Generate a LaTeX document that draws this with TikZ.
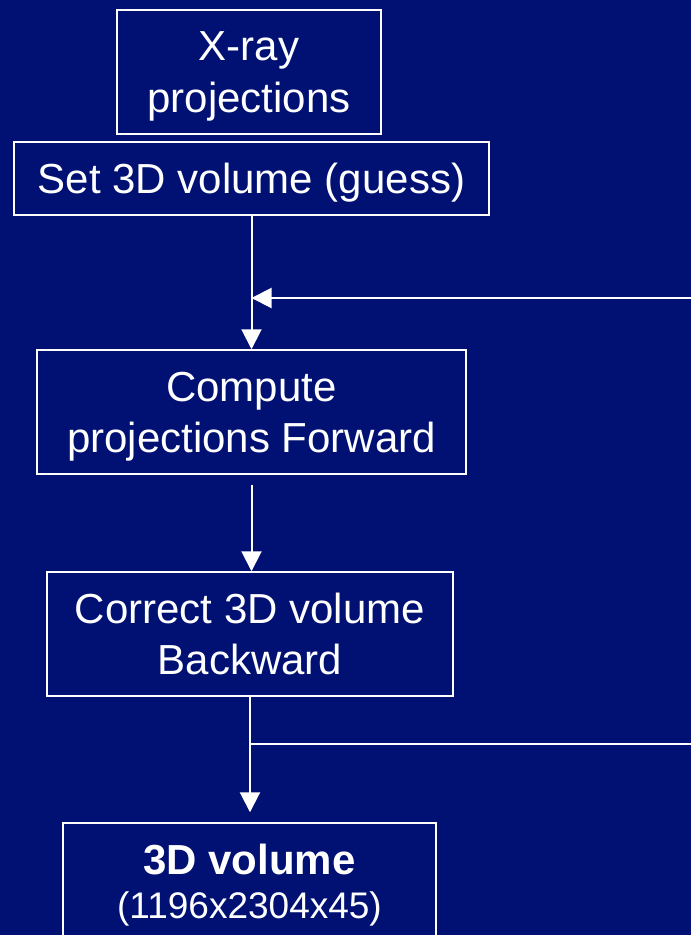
\documentclass[tikz,border=0pt]{standalone}
\usepackage{fontspec}
\setmainfont{Liberation Sans}
\usetikzlibrary{arrows.meta}
\definecolor{slidebg}{RGB}{0,17,115}

\begin{document}
\begin{tikzpicture}[x=0.75pt,y=0.75pt,yscale=-1,
  stage/.style={draw=white, line width=1.1pt, text=white, align=center, inner sep=0pt,
    text depth=0pt, font=\fontsize{31.5}{38.5}\selectfont},
  flow/.style={draw=white, line width=1.5pt, -{Triangle[length=15pt,width=15pt]}},
  link/.style={draw=white, line width=1.5pt}]
%set diagram area: 691 x 935
\fill[slidebg] (0,0) rectangle (691,935);
\useasboundingbox (0,0) rectangle (691,935);

% Text Node
\node[stage, minimum width=198pt, minimum height=93pt] (xray) at (249,72) {X-ray\\projections};
% Text Node
\node[stage, minimum width=356.25pt, minimum height=54.75pt] (guess) at (251.5,178.5) {Set 3D volume (guess)};
% Text Node
\node[stage, minimum width=321.75pt, minimum height=93pt] (fwd) at (251.5,412) {Compute\\projections Forward};
% Text Node
\node[stage, minimum width=304.5pt, minimum height=93pt] (bwd) at (250,634) {Correct 3D volume\\Backward};
% Text Node
\node[stage, minimum width=279.75pt, minimum height=93pt, text depth=5.8pt, font=\fontsize{31.5}{33}\selectfont] (vol) at (249.5,885)
  {\bfseries 3D volume\\{\fontsize{27.75}{33}\selectfont (1196x2304x45)}};

\coordinate (loopin) at (691,298);
\coordinate (loopout) at (691,744);

%Straight Lines
\draw[flow] (guess.south) -- (fwd.north);
\draw[flow] (loopin) -- (guess.south |- loopin);
\draw[flow, shorten <=7.5pt] (fwd.south) -- (fwd.south |- bwd.north);
\draw[flow, shorten >=7.5pt] (bwd.south) -- (bwd.south |- vol.north);
\draw[link] (bwd.south |- loopout) -- (loopout);

\end{tikzpicture}
\end{document}
